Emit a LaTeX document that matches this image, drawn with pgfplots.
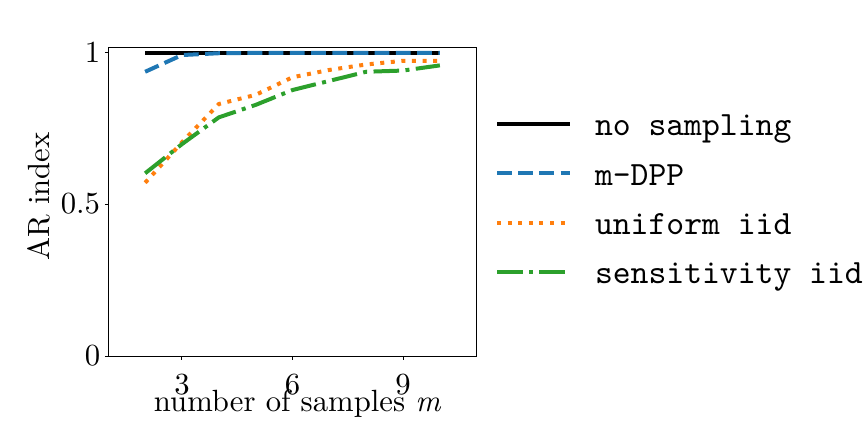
\documentclass[border=0pt]{standalone}
\usepackage{fontspec}
\setmainfont{lmroman10-regular.otf}[ItalicFont=lmroman10-italic.otf]
\setmonofont{lmmono10-regular.otf}
\usepackage{pgfplots}
\pgfplotsset{compat=1.18}
\definecolor{c0}{HTML}{1F77B4}
\definecolor{c1}{HTML}{FF7F0E}
\definecolor{c2}{HTML}{2CA02C}
\begin{document}
\begin{tikzpicture}
\useasboundingbox (0,0) rectangle (864bp,432bp);
\begin{axis}[
  at={(108.3bp,76bp)}, anchor=south west,
  scale only axis, width=368.4bp, height=308.7bp,
  xmin=1, xmax=11, ymin=0, ymax=1.0155,
  xtick={3,6,9}, ytick={0,0.5,1},
  /pgf/number format/assume math mode=true,
  tick align=outside, xtick pos=bottom, ytick pos=left,
  major tick length=3.5bp,
  axis line style={line width=1bp, black},
  tick style={line width=1bp, black},
  tick label style={font=\fontsize{30.7bp}{36bp}\selectfont},
  xticklabel style={anchor=base, inner sep=0pt, yshift=-35.3bp},
  yticklabel style={anchor=east, inner sep=0pt, xshift=-4.5bp},
  label style={font=\fontsize{30.7bp}{36bp}\selectfont},
  xlabel={number of samples {\itshape m}},
  ylabel={AR index},
  xlabel style={at={(axis description cs:0.5128,-0.1814)}, anchor=base, inner sep=0pt},
  ylabel style={at={(axis description cs:-0.1583,0.5167)}, anchor=base, inner sep=0pt},
  legend cell align=left,
  legend image code/.code={\draw[#1] (0bp,0bp) -- (73bp,0bp);},
  legend style={draw=none, fill=none, inner sep=0pt, outer sep=0pt,
    at={(axis description cs:1.0497,0.8099)}, anchor=north west,
    column sep=23bp, row sep=13.3bp,
    nodes={inner sep=0pt, text height=30bp, text depth=6bp},
    font=\ttfamily\fontsize{34bp}{40bp}\selectfont},
  every axis plot/.append style={line width=4bp, line join=round, line cap=butt},
]
\addplot[black] coordinates {(2,0.997)(3,0.997)(4,0.997)(5,0.997)(6,0.997)(7,0.997)(8,0.997)(9,0.997)(10,0.997)};
\addlegendentry{no sampling}
\addplot[c0, dash pattern=on 14.8bp off 6.4bp] coordinates {(2,0.935)(3,0.990)(4,0.996)(5,0.997)(6,0.997)(7,0.997)(8,0.997)(9,0.997)(10,0.997)};
\addlegendentry{m-DPP}
\addplot[c1, dash pattern=on 4bp off 6.6bp] coordinates {(2,0.570)(3,0.703)(4,0.829)(5,0.859)(6,0.917)(7,0.941)(8,0.959)(9,0.971)(10,0.971)};
\addlegendentry{uniform iid}
\addplot[c2, dash pattern=on 25.6bp off 6.4bp on 4bp off 6.4bp] coordinates {(2,0.601)(3,0.697)(4,0.785)(5,0.826)(6,0.875)(7,0.905)(8,0.935)(9,0.939)(10,0.956)};
\addlegendentry{sensitivity iid}
\end{axis}
\end{tikzpicture}
\end{document}
